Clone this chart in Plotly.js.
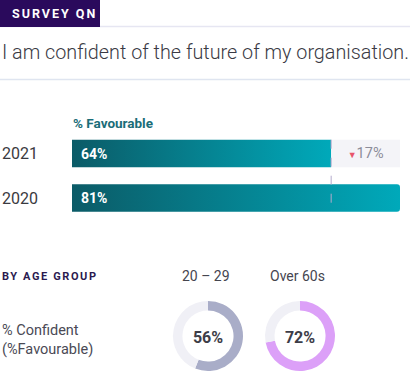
<!DOCTYPE html>
<html>
<head>
<meta charset="utf-8">
<script src="https://cdn.plot.ly/plotly-3.0.1.min.js"></script>
<style>
html,body{margin:0;padding:0;background:#fff;}
#chart{width:410px;height:372px;}
</style>
</head>
<body>
<div id="chart"></div>
<script>
// ---- data ----
const years = ['2021', '2020'];
const favourable = [64, 81];
const ageGroups = ['20 – 29', 'Over 60s'];
const confident = [56, 72];
const ageColors = ['#a9adc8', '#dca0f8'];
const headerLabel = 'SURVEY QN';
const question = 'I am confident of the future of my organisation.';
const barAxisLabel = '% Favourable';
const sectionLabel = 'BY AGE GROUP';
const donutLabel = '% Confident<br>(%Favourable)';

const W = 410, H = 372;
const px = v => v / W;
const py = v => 1 - v / H;
const FONT = 'Roboto, "Open Sans", sans-serif';

const change = favourable[0] - favourable[1];
const gapText = '<span style="color:#e8566c;font-size:9px">▼</span>' + Math.abs(change) + '%';

const traces = [
  {
    type: 'bar', orientation: 'h', y: years, x: favourable,
    xaxis: 'x', yaxis: 'y',
    marker: {color: '#04808f', cornerradius: 3},
    hoverinfo: 'skip', width: 0.62
  },
  {
    type: 'bar', orientation: 'h', y: [years[0]], x: [favourable[1] - favourable[0]], base: [favourable[0]],
    xaxis: 'x', yaxis: 'y',
    marker: {color: '#f4f4f8', cornerradius: 0},
    text: [gapText], textposition: 'inside', insidetextanchor: 'middle',
    textfont: {family: FONT, size: 14.5, color: '#8c8c99'},
    hoverinfo: 'skip', width: 0.62
  }
];

const donutX = [[173, 243], [265, 335]];
confident.forEach((v, i) => {
  traces.push({
    type: 'pie', values: [v, 100 - v], sort: false, direction: 'clockwise', rotation: 0,
    hole: 0.73, marker: {colors: [ageColors[i], '#f0f0f6'], line: {width: 0}},
    textinfo: 'none', hoverinfo: 'skip', showlegend: false,
    domain: {x: [px(donutX[i][0]), px(donutX[i][1])], y: [py(371), py(301)]},
    title: {text: v + '%', position: 'middle center', font: {family: FONT, size: 16, color: '#3d3d48', weight: 700}}
  });
});

const ann = (text, x, y, opts) => Object.assign({
  text: text, x: px(x), y: py(y), xref: 'paper', yref: 'paper', showarrow: false,
  xanchor: 'left', yanchor: 'middle', font: {family: FONT, size: 13, color: '#444'}
}, opts || {});

const annotations = [
  ann(headerLabel, 10, 13.5, {font: {family: FONT, size: 12.5, color: '#ffffff', weight: 700}}),
  ann(question, 0, 53, {font: {family: FONT, size: 19.8, color: '#3a3a44', weight: 300}}),
  ann(barAxisLabel, 71, 123, {font: {family: FONT, size: 13.5, color: '#1a6d78', weight: 700}}),
  ann(sectionLabel, 0, 276, {font: {family: FONT, size: 11, color: '#2b1a4f', weight: 700}}),
  ann(donutLabel, 0, 340, {align: 'left', font: {family: FONT, size: 14.5, color: '#4a4a55'}})
];
years.forEach((yv, i) => {
  annotations.push(ann(yv, 0, [153.5, 198][i], {font: {family: FONT, size: 16, color: '#3a3a40', weight: 400}}));
  annotations.push({
    text: favourable[i] + '%', x: 0, y: i, xref: 'x', yref: 'y', xshift: 7, showarrow: false,
    xanchor: 'left', yanchor: 'middle', font: {family: FONT, size: 14, color: '#ffffff', weight: 700}
  });
});
ageGroups.forEach((g, i) => {
  annotations.push(ann(g, (donutX[i][0] + donutX[i][1]) / 2 - 2.5, 276, {xanchor: 'center', font: {family: FONT, size: 14, color: '#45454f'}}));
});

const shapes = [
  {type: 'line', xref: 'paper', yref: 'paper', x0: 0, x1: 1, y0: py(26.5), y1: py(26.5), line: {color: '#e6e6f2', width: 1.5}},
  {type: 'rect', xref: 'paper', yref: 'paper', x0: 0, x1: px(100), y0: py(27), y1: py(0), fillcolor: '#2a0a5c', line: {width: 0}},
  {type: 'line', xref: 'paper', yref: 'paper', x0: 0, x1: 1, y0: py(79.5), y1: py(79.5), line: {color: '#dfe5f0', width: 1.5}},
  {type: 'line', xref: 'x', yref: 'y', x0: favourable[0], x1: favourable[0], y0: -0.31, y1: 1.31, line: {color: '#b4aacc', width: 1, dash: 'dash'}, layer: 'above'}
];

const layout = {
  width: W, height: H, margin: {l: 0, r: 0, t: 0, b: 0},
  paper_bgcolor: '#ffffff', plot_bgcolor: 'rgba(0,0,0,0)',
  showlegend: false, barmode: 'overlay',
  font: {family: FONT},
  xaxis: {domain: [px(72), px(400)], range: [0, Math.max(...favourable)], visible: false, fixedrange: true},
  yaxis: {domain: [py(220.25), py(131.25)], type: 'category', categoryarray: years, range: [1.5, -0.5], visible: false, fixedrange: true},
  annotations: annotations, shapes: shapes
};

Plotly.newPlot('chart', traces, layout, {displayModeBar: false, staticPlot: true}).then(gd => {
  const svg = gd.querySelector('.main-svg');
  const ns = 'http://www.w3.org/2000/svg';
  let defs = svg.querySelector('defs');
  if (!defs) { defs = document.createElementNS(ns, 'defs'); svg.insertBefore(defs, svg.firstChild); }
  const lg = document.createElementNS(ns, 'linearGradient');
  lg.setAttribute('id', 'tealGrad');
  lg.setAttribute('x1', '0'); lg.setAttribute('x2', '1'); lg.setAttribute('y1', '0'); lg.setAttribute('y2', '0');
  [['0', '#0b5b67'], ['1', '#00a9ba']].forEach(s => {
    const st = document.createElementNS(ns, 'stop');
    st.setAttribute('offset', s[0]); st.setAttribute('stop-color', s[1]);
    lg.appendChild(st);
  });
  defs.appendChild(lg);
  const firstTrace = gd.querySelectorAll('.barlayer .trace')[0];
  if (firstTrace) firstTrace.querySelectorAll('.point path').forEach(p => { p.style.fill = 'url(#tealGrad)'; });
  gd.querySelectorAll('.annotation-text').forEach(t => {
    const txt = t.textContent;
    let ls = 0;
    if (txt === headerLabel) ls = 2;
    if (txt === sectionLabel) ls = 1.6;
    if (ls) {
      const bb = t.getBBox();
      t.setAttribute('letter-spacing', ls + 'px');
      t.setAttribute('text-anchor', 'start');
      t.setAttribute('x', bb.x);
      t.querySelectorAll('tspan').forEach(s => { if (s.hasAttribute('x')) s.setAttribute('x', bb.x); });
    }
  });
});
</script>
</body>
</html>
